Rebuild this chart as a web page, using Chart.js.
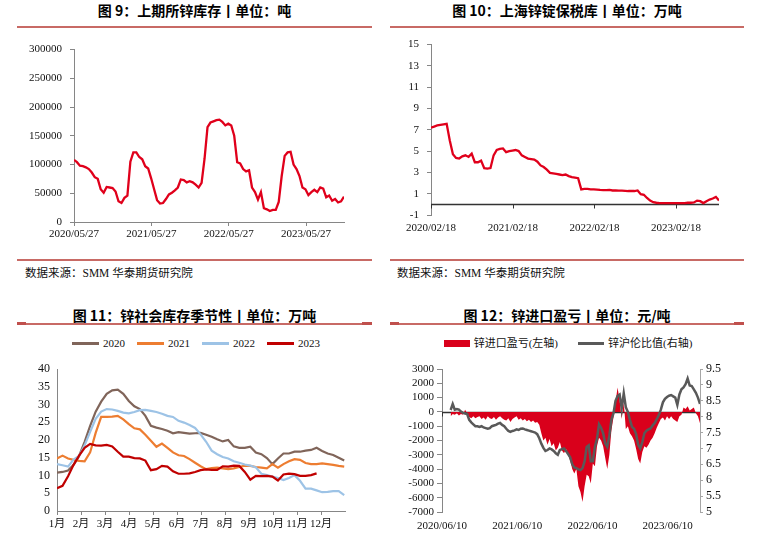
<!DOCTYPE html>
<html lang="zh-CN">
<head>
<meta charset="utf-8">
<title>锌库存与进口盈亏</title>
<script src="https://cdn.jsdelivr.net/npm/chart.js@4.4.0/dist/chart.umd.min.js"></script>
<style>
  html, body { margin: 0; padding: 0; background: #fff; }
  #page { position: relative; width: 774px; height: 540px; overflow: hidden; }
  #page canvas, .title, .rule, .source, .legend { position: absolute; }
  .title { font: bold 14px 'Noto Sans CJK SC', sans-serif; line-height: 20px; text-align: center; color: #000; }
  .rule { height: 2px; background: #c86a65; }
  .rule.end { height: 3px; background: #c0504d; }
  .source { font: 11.5px 'Liberation Serif', 'Noto Sans CJK SC', serif; line-height: 16px; color: #111; }
  .legend { display: flex; justify-content: center; align-items: center; font: 11px 'Liberation Serif', 'Noto Sans CJK SC', serif; line-height: 16px; color: #111; }
  .legend span { display: flex; align-items: center; }
  .legend i { display: inline-block; width: 27px; margin-right: 4px; }
</style>
</head>
<body>
<div id="page">
  <!-- 图9 -->
  <div class="title" style="left:17px;width:355px;top:0">图 9：上期所锌库存丨单位：吨</div>
  <div class="rule" style="left:17px;width:355px;top:26px"></div>
  <canvas id="shfeChart" width="387" height="214" style="left:0;top:36px"></canvas>
  <div class="rule" style="left:17px;width:355px;top:259px"></div>
  <div class="source" style="left:25px;top:265px">数据来源：SMM 华泰期货研究院</div>

  <!-- 图10 -->
  <div class="title" style="left:390px;width:354px;top:0">图 10：上海锌锭保税库丨单位：万吨</div>
  <div class="rule" style="left:390px;width:354px;top:26px"></div>
  <canvas id="bondedChart" width="387" height="212" style="left:387px;top:31px"></canvas>
  <div class="rule" style="left:390px;width:354px;top:259px"></div>
  <div class="source" style="left:397px;top:265px">数据来源：SMM 华泰期货研究院</div>

  <!-- 图11 -->
  <div class="title" style="left:17px;width:355px;top:305px">图 11：锌社会库存季节性丨单位：万吨</div>
  <div class="rule" style="left:17px;width:355px;top:323px"></div>
  <div class="rule end" style="left:17px;width:9px;top:322px"></div>
  <div class="rule end" style="left:362px;width:10px;top:322px"></div>
  <div class="legend" style="left:0;width:392px;top:335px;gap:12px">
    <span><i style="height:3px;background:#80655a"></i>2020</span>
    <span><i style="height:3px;background:#ed7d31"></i>2021</span>
    <span><i style="height:3px;background:#9dc3e6"></i>2022</span>
    <span><i style="height:3px;background:#c00000"></i>2023</span>
  </div>
  <canvas id="socialChart" width="387" height="184" style="left:0;top:355px"></canvas>

  <!-- 图12 -->
  <div class="title" style="left:390px;width:354px;top:305px">图 12：锌进口盈亏丨单位：元/吨</div>
  <div class="rule" style="left:390px;width:354px;top:323px"></div>
  <div class="rule end" style="left:390px;width:9px;top:322px"></div>
  <div class="rule end" style="left:734px;width:10px;top:322px"></div>
  <div class="legend" style="left:387px;width:362px;top:335px;gap:20px">
    <span><i style="width:26px;height:7px;background:#d9001b"></i>锌进口盈亏(左轴)</span>
    <span><i style="width:26px;height:3px;background:#595959"></i>锌沪伦比值(右轴)</span>
  </div>
  <canvas id="importChart" width="387" height="185" style="left:387px;top:355px"></canvas>
</div>

<script>
// 图9 上期所锌库存（吨），每两周一个点
const shfeStart = '2020/05/27';
const shfeStepDays = 14;
const shfeTickLabels = ['2020/05/27', '2021/05/27', '2022/05/27', '2023/05/27'];
const shfeStock = [
  108000, 104000, 98000, 97000, 95000, 92000, 86000, 78000, 75000, 57000,
  51000, 61000, 60000, 59000, 53000, 36000, 33000, 42000, 46000, 105000,
  121000, 121000, 113000, 109000, 97000, 93000, 76000, 57000, 38000, 32000,
  33000, 40000, 48000, 51000, 55000, 60000, 74000, 73000, 69000, 71000,
  69000, 65000, 60000, 68000, 110000, 165000, 173000, 175000, 177000, 178000,
  174000, 168000, 171000, 168000, 150000, 104000, 102000, 92000, 88000, 90000,
  60000, 52000, 39000, 52000, 24000, 22000, 19000, 21000, 21000, 35000,
  80000, 115000, 121000, 122000, 100000, 92000, 80000, 60000, 57000, 47000,
  52000, 56000, 52000, 60000, 58000, 43000, 46000, 37000, 40000, 34000,
  36000, 44000
];

// 图10 上海锌锭保税库（万吨）
const bondedStart = '2020/02/18';
const bondedStepDays = 14;
const bondedTickLabels = ['2020/02/18', '2021/02/18', '2022/02/18', '2023/02/18'];
const bondedStock = [
  7.2, 7.3, 7.4, 7.45, 7.5, 7.55, 6.0, 4.7, 4.35, 4.3,
  4.5, 4.6, 4.45, 4.75, 3.95, 3.95, 4.1, 3.4, 3.35, 3.4,
  4.6, 5.1, 5.2, 5.25, 4.9, 5.0, 5.05, 5.1, 5.0, 4.6,
  4.45, 4.3, 4.25, 4.2, 4.0, 3.65, 3.5, 3.25, 2.95, 2.9,
  2.85, 2.8, 2.75, 2.8, 2.65, 2.55, 2.5, 2.45, 1.4, 1.45,
  1.45, 1.4, 1.4, 1.38, 1.35, 1.33, 1.33, 1.35, 1.3, 1.3,
  1.28, 1.28, 1.27, 1.25, 1.25, 1.25, 1.3, 0.95, 0.9, 0.6,
  0.35, 0.2, 0.15, 0.12, 0.12, 0.12, 0.12, 0.12, 0.12, 0.12,
  0.12, 0.12, 0.15, 0.15, 0.18, 0.35, 0.3, 0.12, 0.3, 0.45,
  0.55, 0.7, 0.35
];

// 图11 锌社会库存季节性（万吨），周度
const monthLabels = ['1月', '2月', '3月', '4月', '5月', '6月', '7月', '8月', '9月', '10月', '11月', '12月'];
const social2020 = [
  10.8, 11.0, 11.4, 13.0, 15.5, 19.5, 24.0, 28.0, 30.8, 33.0,
  34.0, 34.2, 33.0, 31.0, 29.5, 28.7, 26.8, 24.0, 23.5, 23.1,
  22.6, 21.9, 22.2, 22.0, 21.8, 21.9, 22.0, 21.5, 20.9, 20.2,
  19.6, 20.0, 18.2, 17.8, 17.8, 18.1, 16.5, 16.0, 14.9, 13.2,
  14.8, 16.2, 16.2, 16.7, 16.7, 17.0, 17.2, 17.8, 16.9, 16.2,
  15.8, 15.0, 14.2
];
const social2021 = [
  14.8, 15.6, 14.8, 14.4, 14.1, 14.0, 16.5, 22.0, 26.5, 26.5,
  26.6, 26.8, 25.8, 24.5, 23.3, 23.0, 21.5, 19.8, 18.1, 19.0,
  17.8, 16.5, 15.7, 15.5, 14.6, 13.6, 12.6, 11.8, 12.1, 12.2,
  12.0, 11.8, 12.0, 12.4, 12.8, 12.7, 12.4, 12.2, 12.0, 13.2,
  12.2, 13.2, 14.0, 14.6, 14.4, 13.5, 13.2, 13.2, 13.4, 13.2,
  13.0, 12.7, 12.5
];
const social2022 = [
  13.2, 12.9, 12.5, 14.5, 15.5, 18.5, 22.3, 26.0, 28.0, 28.7,
  28.6, 28.2, 27.7, 27.5, 27.9, 28.4, 28.5, 28.2, 27.9, 27.4,
  26.8, 26.5, 25.4, 24.9, 24.2, 23.4, 21.6, 19.5, 17.0, 16.0,
  15.2, 14.8, 14.0, 13.6, 13.1, 12.8, 12.3, 10.5, 10.1, 9.7,
  9.3, 8.7, 9.3, 10.1, 8.5, 6.3, 6.3, 5.8, 5.3, 5.4,
  5.6, 5.6, 4.5
];
const social2023 = [
  6.4, 7.1, 9.8, 13.0, 15.6, 17.8, 18.9, 18.5, 18.4, 18.6,
  18.2, 16.7, 15.3, 15.3, 14.9, 14.8, 14.2, 11.5, 11.8, 12.7,
  12.5, 11.2, 10.5, 10.5, 10.6, 11.0, 11.5, 11.7, 11.6, 11.6,
  12.6, 12.5, 12.8, 12.7, 11.0, 8.8, 9.9, 9.8, 9.9, 9.7,
  8.6, 10.3, 10.5, 10.4, 9.9, 9.9, 10.1, 10.6
];

// 图12 锌进口盈亏（元/吨）与沪伦比值，每10天一个点
const importStart = '2020/07/22';
const importStepDays = 10;
const importTickLabels = ['2020/06/10', '2021/06/10', '2022/06/10', '2023/06/10'];
const importProfit = [
  -300, -150, -200, -100, -250, -150, -200, 150, -100, -350,
  -450, -300, -450, -350, -300, -500, -400, -550, -300, -450,
  -500, -350, -550, -400, -300, -450, -550, -600, -450, -700,
  -500, -400, -300, -550, -450, -600, -500, -650, -550, -700,
  -600, -750, -700, -900, -1500, -2000, -1800, -2300, -1900, -2400,
  -2200, -2700, -2500, -2100, -2700, -2900, -2600, -3000, -3400, -4000,
  -4300, -4000, -5200, -5600, -6300, -5200, -4400, -4500, -5000, -3600,
  -3800, -2400, -1800, -2000, -2400, -3200, -4000, -3000, -1300, -400,
  700, 1700, 800, -500, 700, -1200, -1000, -1500, -1700, -2000,
  -2600, -3300, -3600, -2800, -2400, -2500, -2300, -2000, -1800, -1500,
  -1100, -800, -500, -400, -600, -300, -500, -300, -500, -600,
  -700, -300, -200, 300, 200, 400, 100, 200, 300, -100,
  -300, -800
];
const shfeLmeRatio = [
  8.21, 8.40, 8.22, 8.24, 8.22, 8.16, 8.12, 8.10, 8.08, 7.90,
  7.82, 7.76, 7.70, 7.70, 7.68, 7.70, 7.66, 7.64, 7.62, 7.64,
  7.70, 7.72, 7.74, 7.78, 7.80, 7.74, 7.70, 7.62, 7.55, 7.52,
  7.55, 7.57, 7.60, 7.58, 7.62, 7.63, 7.60, 7.58, 7.56, 7.54,
  7.52, 7.50, 7.45, 7.32, 7.15, 7.02, 6.92, 6.95, 7.00, 6.97,
  6.92, 6.85, 6.80, 6.95, 6.98, 7.00, 6.92, 6.82, 6.72, 6.50,
  6.40, 6.38, 6.34, 6.32, 6.38, 6.60, 7.05, 7.10, 6.60, 6.60,
  7.05, 7.30, 7.76, 7.65, 7.48, 7.16, 7.05, 7.40, 7.90, 8.10,
  8.50, 8.65, 8.70, 8.25, 8.74, 8.30, 8.15, 7.90, 7.68, 7.62,
  7.45, 7.12, 7.00, 7.20, 7.48, 7.56, 7.60, 7.63, 7.72, 7.80,
  7.92, 8.05, 8.22, 8.45, 8.56, 8.62, 8.66, 8.68, 8.64, 8.60,
  8.37, 8.70, 8.86, 8.92, 9.02, 9.20, 8.98, 8.96, 8.86, 8.75,
  8.60, 8.40
];

// ---- helpers ----
function parseDate(s) {
  const [y, m, d] = s.split('/').map(Number);
  return Date.UTC(y, m - 1, d);
}
function daysBetween(from, to) {
  return Math.round((parseDate(to) - parseDate(from)) / 86400000);
}
// time series -> {x: days since first tick, y}
function datedPoints(values, start, origin, step) {
  const offset = daysBetween(origin, start);
  return values.map((v, i) => ({ x: offset + i * step, y: v }));
}
function dateTicks(labels) {
  return labels.map(l => ({ value: daysBetween(labels[0], l) }));
}
const fixWidth = w => scale => { scale.width = w; };
const fixHeight = h => scale => { scale.height = h; };

const serif = "'Liberation Serif', 'Noto Sans CJK SC', serif";
const tickFont = { family: serif, size: 11, lineHeight: 1 };
const textColor = '#111';
const axisGray = '#868686';

Chart.defaults.font.family = serif;

// zero line with short tick marks, drawn where the x axis crosses 0
const zeroAxisLine = {
  id: 'zeroAxisLine',
  beforeDatasetsDraw(chart, args, opts) {
    const xs = chart.scales.x;
    const ys = chart.scales[opts.axis || 'y'];
    const y0 = Math.round(ys.getPixelForValue(0)) + 0.5;
    const ctx = chart.ctx;
    ctx.save();
    ctx.strokeStyle = opts.color;
    ctx.lineWidth = opts.width;
    ctx.beginPath();
    ctx.moveTo(xs.left, y0);
    ctx.lineTo(xs.right, y0);
    ctx.stroke();
    ctx.lineWidth = 1;
    xs.ticks.forEach(t => {
      const px = Math.round(xs.getPixelForValue(t.value)) + 0.5;
      ctx.beginPath();
      ctx.moveTo(px, y0);
      ctx.lineTo(px, y0 + 4);
      ctx.stroke();
    });
    ctx.restore();
  }
};

const noPlugins = { legend: { display: false }, tooltip: { enabled: false } };

// 图9
const shfeData = datedPoints(shfeStock, shfeStart, shfeTickLabels[0], shfeStepDays);
new Chart(document.getElementById('shfeChart'), {
  type: 'line',
  data: {
    datasets: [{
      data: shfeData,
      borderColor: '#e0001b',
      borderWidth: 2.3,
      pointRadius: 0,
      tension: 0
    }]
  },
  options: {
    responsive: false,
    animation: false,
    layout: { padding: { left: 20, right: 43, top: 12, bottom: 0 } },
    plugins: noPlugins,
    scales: {
      x: {
        type: 'linear',
        min: 0,
        max: shfeData[shfeData.length - 1].x,
        afterBuildTicks: s => { s.ticks = dateTicks(shfeTickLabels); },
        afterFit: fixHeight(28),
        grid: { drawOnChartArea: false, tickLength: 4, color: axisGray },
        border: { color: axisGray },
        ticks: { font: tickFont, color: textColor, padding: 3, maxRotation: 0, autoSkip: false,
                 callback: (v, i) => shfeTickLabels[i] }
      },
      y: {
        min: 0,
        max: 300000,
        afterFit: fixWidth(54),
        grid: { drawOnChartArea: false, tickLength: 4, color: axisGray },
        border: { color: axisGray },
        ticks: { stepSize: 50000, font: tickFont, color: textColor, padding: 8, autoSkip: false,
                 callback: v => String(v) }
      }
    }
  }
});

// 图10
const bondedData = datedPoints(bondedStock, bondedStart, bondedTickLabels[0], bondedStepDays);
new Chart(document.getElementById('bondedChart'), {
  type: 'line',
  data: {
    datasets: [{
      data: bondedData,
      borderColor: '#e0001b',
      borderWidth: 2.3,
      pointRadius: 0,
      tension: 0
    }]
  },
  plugins: [zeroAxisLine],
  options: {
    responsive: false,
    animation: false,
    layout: { padding: { left: 14, right: 55, top: 12, bottom: 0 } },
    plugins: Object.assign({ zeroAxisLine: { axis: 'y', color: '#333', width: 1.5 } }, noPlugins),
    scales: {
      x: {
        type: 'linear',
        min: 0,
        max: bondedData[bondedData.length - 1].x,
        afterBuildTicks: s => { s.ticks = dateTicks(bondedTickLabels); },
        afterFit: fixHeight(28),
        grid: { display: false, drawTicks: false },
        border: { display: false },
        ticks: { font: tickFont, color: textColor, padding: 8, maxRotation: 0, autoSkip: false,
                 callback: (v, i) => bondedTickLabels[i] }
      },
      y: {
        min: -1,
        max: 15,
        afterFit: fixWidth(30),
        grid: { drawOnChartArea: false, tickLength: 4, color: axisGray },
        border: { color: axisGray },
        ticks: { stepSize: 2, font: tickFont, color: textColor, padding: 8, autoSkip: false }
      }
    }
  }
});

// 图11
const weekToMonth = i => i * 7 * 12 / 365;
const seasonal = (values, label, color) => ({
  label,
  data: values.map((v, i) => ({ x: weekToMonth(i), y: v })),
  borderColor: color,
  borderWidth: 2.2,
  pointRadius: 0,
  tension: 0
});
new Chart(document.getElementById('socialChart'), {
  type: 'line',
  data: {
    datasets: [
      seasonal(social2020, '2020', '#80655a'),
      seasonal(social2021, '2021', '#ed7d31'),
      seasonal(social2022, '2022', '#9dc3e6'),
      seasonal(social2023, '2023', '#c00000')
    ].reverse()
  },
  options: {
    responsive: false,
    animation: false,
    layout: { padding: { left: 17, right: 42, top: 14, bottom: 0 } },
    plugins: noPlugins,
    scales: {
      x: {
        type: 'linear',
        min: 0,
        max: 12,
        afterBuildTicks: s => { s.ticks = monthLabels.map((m, i) => ({ value: i })); },
        afterFit: fixHeight(28),
        grid: { drawOnChartArea: false, tickLength: 4, color: axisGray },
        border: { color: axisGray },
        ticks: { font: tickFont, color: textColor, padding: 4, maxRotation: 0, autoSkip: false,
                 callback: (v, i) => monthLabels[i] }
      },
      y: {
        min: 0,
        max: 40,
        afterFit: fixWidth(40),
        grid: { display: false, drawTicks: false },
        border: { color: axisGray },
        ticks: { stepSize: 5, font: { family: serif, size: 12, lineHeight: 1 }, color: textColor, padding: 7, autoSkip: false }
      }
    }
  }
});

// 图12
const profitData = datedPoints(importProfit, importStart, importTickLabels[0], importStepDays);
const ratioData = datedPoints(shfeLmeRatio, importStart, importTickLabels[0], importStepDays);
new Chart(document.getElementById('importChart'), {
  type: 'line',
  data: {
    datasets: [
      {
        label: '锌沪伦比值(右轴)',
        data: ratioData,
        yAxisID: 'y1',
        order: 0,
        borderColor: '#595959',
        borderWidth: 2.5,
        pointRadius: 0,
        tension: 0
      },
      {
        label: '锌进口盈亏(左轴)',
        data: profitData,
        yAxisID: 'y',
        order: 1,
        fill: 'origin',
        backgroundColor: '#d9001b',
        borderColor: '#d9001b',
        borderWidth: 0,
        pointRadius: 0,
        tension: 0
      }
    ]
  },
  plugins: [zeroAxisLine],
  options: {
    responsive: false,
    animation: false,
    layout: { padding: { left: 5, right: 29, top: 14, bottom: 0 } },
    plugins: Object.assign({ zeroAxisLine: { axis: 'y', color: '#333', width: 1.3 } }, noPlugins),
    scales: {
      x: {
        type: 'linear',
        min: 0,
        max: profitData[profitData.length - 1].x,
        afterBuildTicks: s => { s.ticks = dateTicks(importTickLabels); },
        afterFit: fixHeight(28),
        grid: { display: false, drawTicks: false },
        border: { display: false },
        ticks: { font: tickFont, color: textColor, padding: 9, maxRotation: 0, autoSkip: false,
                 callback: (v, i) => importTickLabels[i] }
      },
      y: {
        position: 'left',
        min: -7000,
        max: 3000,
        afterFit: fixWidth(50),
        grid: { drawOnChartArea: false, tickLength: 5, color: axisGray },
        border: { color: axisGray },
        ticks: { stepSize: 1000, font: tickFont, color: textColor, padding: 3, autoSkip: false,
                 callback: v => String(v) }
      },
      y1: {
        position: 'right',
        min: 5,
        max: 9.5,
        afterFit: fixWidth(45),
        grid: { drawOnChartArea: false, tickLength: 3, color: '#a6a6a6' },
        border: { color: '#a6a6a6' },
        ticks: { stepSize: 0.5, font: { family: serif, size: 12, lineHeight: 1 }, color: textColor, padding: 3,
                 autoSkip: false, callback: v => String(v) }
      }
    }
  }
});
</script>
</body>
</html>
